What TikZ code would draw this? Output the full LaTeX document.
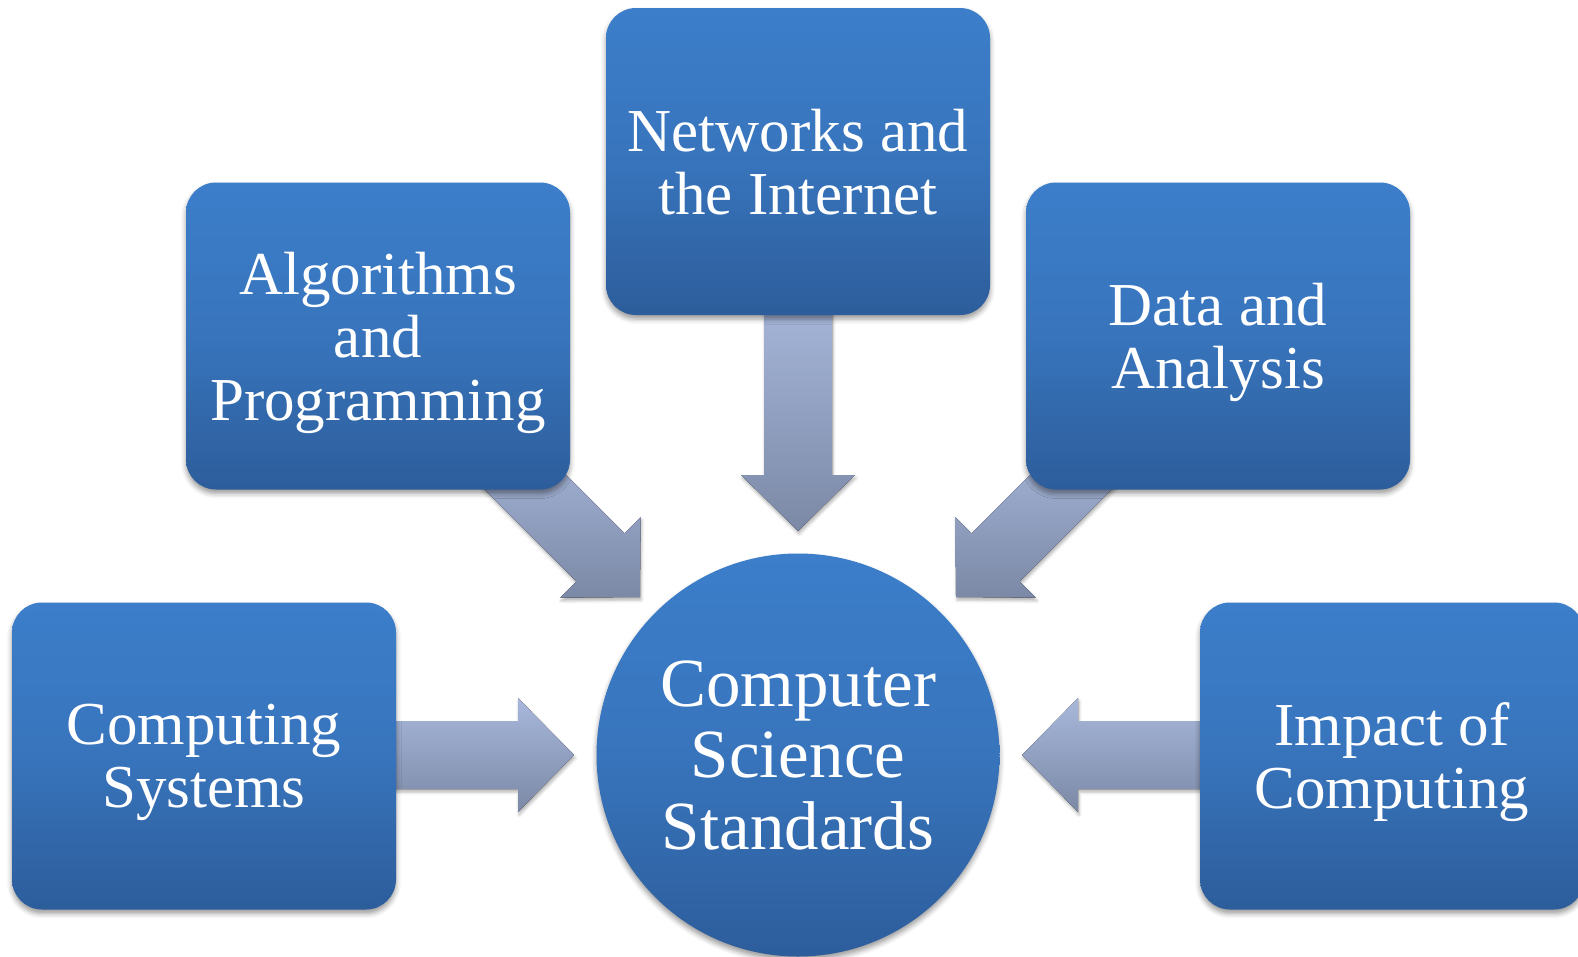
\documentclass[tikz,border=0pt]{standalone}
\usepackage{fontspec}
\setmainfont{Liberation Serif}
\usetikzlibrary{calc,backgrounds,shadows.blur}
\definecolor{boxtop}{RGB}{60,126,202}
\definecolor{boxbot}{RGB}{45,93,155}
\definecolor{arrtop}{RGB}{168,184,219}
\definecolor{arrbot}{RGB}{123,137,166}
\tikzset{
	topic/.style={rectangle,rounded corners=30pt,minimum width=384pt,minimum height=307pt,inner sep=0pt,
		top color=boxtop,bottom color=boxbot,middle color=boxtop!70!boxbot,text=white,align=center,text depth=0pt,
		font=\fontsize{61}{63}\selectfont,blur shadow={shadow xshift=0pt,shadow yshift=-4pt,shadow blur radius=5pt,shadow opacity=40}},
	hubnode/.style={circle,minimum size=403pt,inner sep=0pt,
		top color=boxtop,bottom color=boxbot,middle color=boxtop!70!boxbot,text=white,align=center,text depth=0pt,
		font=\fontsize{69}{71.5}\selectfont,blur shadow={shadow xshift=0pt,shadow yshift=-4pt,shadow blur radius=5pt,shadow opacity=40}},
	blockarrow/.style={top color=arrtop,bottom color=arrbot,blur shadow={shadow xshift=1pt,shadow yshift=-3pt,shadow blur radius=3pt,shadow opacity=30}}
}
% tip, angle, length
\newcommand{\bigarrow}[3]{%
	\fill[blockarrow,shift={(#1)},rotate=#2] (0,0) -- (-56,-57) -- (-56,-34) -- (-#3,-34) -- (-#3,34) -- (-56,34) -- (-56,57) -- cycle;}

\begin{document}
\begin{tikzpicture}[line cap=round,line join=round,x=1pt,y=-1pt]
	\useasboundingbox (0,0) rectangle (1578,956);
	\node[topic] (net) at (798,161.5) {Networks and\\the Internet};
	\node[topic] (alg) at (378,336) {Algorithms\\and\\Programming};
	\node[topic] (dat) at (1218,336) {Data and\\Analysis};
	\node[topic] (sys) at (204,756) {Computing\\Systems};
	\node[topic] (imp) at (1392,756) {Impact of\\Computing};
	\node[hubnode] (hub) at (798,755) {Computer\\Science\\Standards};
	\begin{scope}[on background layer]
	\coordinate (tnet) at ($(hub.center)+(0,-224)$);
	\coordinate (talg) at ($(hub.center)+(-158,-158)$);
	\coordinate (tdat) at ($(hub.center)+(158,-158)$);
	\coordinate (tsys) at ($(hub.center)+(-224,0)$);
	\coordinate (timp) at ($(hub.center)+(224,0)$);
	\bigarrow{tnet}{-90}{240}
	\bigarrow{talg}{-45}{200}
	\bigarrow{tdat}{-135}{200}
	\bigarrow{tsys}{0}{200}
	\bigarrow{timp}{180}{200}
	\end{scope}
\end{tikzpicture}
\end{document}
